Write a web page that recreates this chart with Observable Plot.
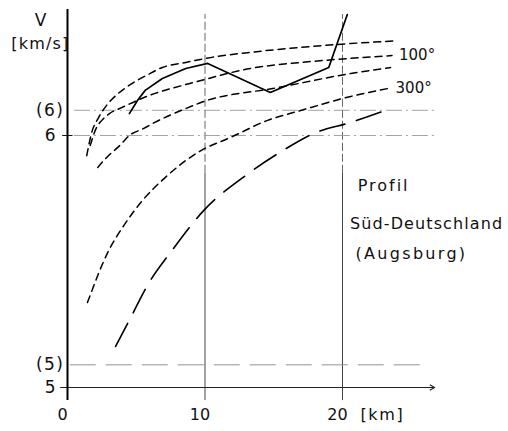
<!DOCTYPE html>
<html><head><meta charset="utf-8">
<script src="https://cdn.jsdelivr.net/npm/d3@7"></script>
<script src="https://cdn.jsdelivr.net/npm/@observablehq/plot@0.6"></script>
<style>body{margin:0;background:#fff}</style>
</head><body><div id="chart"></div>
<script>
// ---- data ----
const xTicks = [0, 10, 20];
const xTickLabels = ["0", "10", "20"];
const yTicks = [5, 6];
const yTickLabels = ["5", "6"];
const yAltTicks = [5.09, 6.1];
const yAltLabels = ["(5)", "(6)"];
const gridX = [10, 20];

// short-dashed curves (top to bottom)
const c1X = [1.4, 1.75, 2.25, 3.0, 3.55, 4.8, 5.8, 6.9, 8.6, 10.5, 13.3, 17.0, 20.6, 23.7];
const c1V = [5.92, 6.01, 6.07, 6.13, 6.16, 6.21, 6.24, 6.27, 6.29, 6.31, 6.33, 6.35, 6.365, 6.375];
const c2X = [1.65, 2.1, 2.5, 3.05, 3.8, 5.4, 9.7, 13.3, 17.0, 20.6, 23.6];
const c2V = [5.96, 6.03, 6.06, 6.087, 6.107, 6.147, 6.218, 6.266, 6.29, 6.306, 6.317];
const c3X = [2.2, 2.85, 3.8, 4.5, 5.55, 6.35, 8.6, 9.7, 15.3, 20.6, 23.5];
const c3V = [5.873, 5.913, 5.96, 6.0, 6.028, 6.052, 6.107, 6.131, 6.19, 6.246, 6.27];
const c4X = [1.45, 3.0, 4.2, 5.45, 7.1, 9.7, 11.85, 14.55, 16.95, 20.6, 23.35];
const c4V = [5.337, 5.544, 5.651, 5.742, 5.833, 5.94, 5.992, 6.06, 6.099, 6.155, 6.187];
// long-dashed curve
const longX = [3.5, 4.6, 5.9, 7.55, 9.9, 12.95, 15.65, 17.9, 20.6, 23.5];
const longV = [5.163, 5.278, 5.413, 5.54, 5.702, 5.841, 5.94, 6.008, 6.052, 6.107];
// solid profile
const solidX = [4.5, 5.1, 5.65, 6.9, 8.6, 10.2, 14.75, 19.0, 20.35];
const solidV = [6.087, 6.14, 6.179, 6.226, 6.266, 6.286, 6.171, 6.27, 6.48];

const seriesLabels = ["100°", "300°"];
const notes = ["Profil", "Süd-Deutschland", "(Augsburg)"];
const noteX = [21.1, 20.55, 20.95];
const noteV = [5.80, 5.65, 5.53];

const pts = (xs, vs) => xs.map((x, i) => ({x, v: vs[i]}));
const shortCurves = [pts(c1X, c1V), pts(c2X, c2V), pts(c3X, c3V), pts(c4X, c4V)];
const labelled = [shortCurves[1], shortCurves[3]].map((c, i) => ({...c[c.length - 1], label: seriesLabels[i]}));

const vTop = 6.5, vBottom = 4.948, split = 5.85, xEnd = 26.7;

const marks = [
  // vertical guide lines
  Plot.ruleX(gridX, {y1: vBottom, y2: split, stroke: "#444", strokeWidth: 1}),
  Plot.ruleX(gridX, {y1: split, y2: 6.48, stroke: "#666", strokeWidth: 1, strokeDasharray: "8,3"}),
  // horizontal reference lines
  Plot.ruleY([yAltTicks[1], yTicks[1]], {x1: 0.5, x2: 26.8, stroke: "#999", strokeWidth: 0.9, strokeDasharray: "16,4,2,4"}),
  Plot.ruleY([yAltTicks[0]], {x1: 0.2, x2: 25.9, stroke: "#888", strokeWidth: 0.9, strokeDasharray: "26,10"}),
  Plot.ruleY([yTicks[1]], {x1: -0.35, x2: 0.4, stroke: "#111", strokeWidth: 1}),
  // x axis with arrow
  Plot.arrow([0], {x1: -0.5, y1: yTicks[0], x2: xEnd, y2: yTicks[0], headLength: 7, strokeWidth: 1.1, stroke: "#222"}),
  // y axis
  Plot.ruleX([0], {y1: vBottom, y2: vTop, stroke: "#000", strokeWidth: 2}),
  // curves
  ...shortCurves.map(c => Plot.line(c, {x: "x", y: "v", curve: "monotone-x", stroke: "#000", strokeWidth: 1.5, strokeDasharray: "7,5"})),
  Plot.line(pts(longX, longV), {x: "x", y: "v", curve: "monotone-x", stroke: "#000", strokeWidth: 1.6, strokeDasharray: "26,12"}),
  Plot.line(pts(solidX, solidV), {x: "x", y: "v", curve: "linear", stroke: "#000", strokeWidth: 1.7}),
  // labels
  Plot.text(labelled, {x: "x", y: "v", text: "label", textAnchor: "start", dx: 7, fontSize: 15, fill: "#111"}),
  Plot.text(notes, {x: (d, i) => noteX[i], y: (d, i) => noteV[i], text: d => d, textAnchor: "start", fontSize: 16, fill: "#111"}),
  Plot.text(yTicks, {x: 0, y: d => d, text: (d, i) => yTickLabels[i], textAnchor: "end", dx: -12, fontSize: 17, fill: "#111"}),
  Plot.text(yAltTicks, {x: 0, y: d => d, text: (d, i) => yAltLabels[i], textAnchor: "end", dx: -3, fontSize: 17, fill: "#111"}),
  Plot.text(xTicks, {x: d => d, y: vBottom, text: (d, i) => xTickLabels[i], dx: -5, dy: 14, fontSize: 16, fill: "#111"}),
  Plot.text(["[km]"], {x: xTicks[2], y: vBottom, text: d => d, textAnchor: "start", dx: 18, dy: 14, fontSize: 16, fill: "#111"}),
  Plot.text(["V"], {x: 0, y: vTop, text: d => d, textAnchor: "middle", dx: -27, dy: 11, fontSize: 17, fill: "#111"}),
  Plot.text(["[km/s]"], {x: 0, y: vTop, text: d => d, textAnchor: "end", dx: 2, dy: 34, fontSize: 16, fill: "#111"})
];

const chart = Plot.plot({
  width: 508, height: 431,
  marginLeft: 67, marginRight: 1, marginTop: 9, marginBottom: 44,
  x: {domain: [0, 32], axis: null},
  y: {domain: [5, 6.5], axis: null},
  style: {fontFamily: "DejaVu Sans", background: "#fff", color: "#111"},
  marks
});
const spacing = {"Profil": "2px", "Süd-Deutschland": "1.1px", "(Augsburg)": "2.3px", "[km]": "1.6px", "[km/s]": "1.2px", "(5)": "1.5px", "(6)": "1.5px"};
d3.select(chart).selectAll("text").each(function () {
  const s = spacing[this.textContent];
  if (s) this.style.letterSpacing = s;
});
document.getElementById("chart").appendChild(chart);
</script></body></html>
